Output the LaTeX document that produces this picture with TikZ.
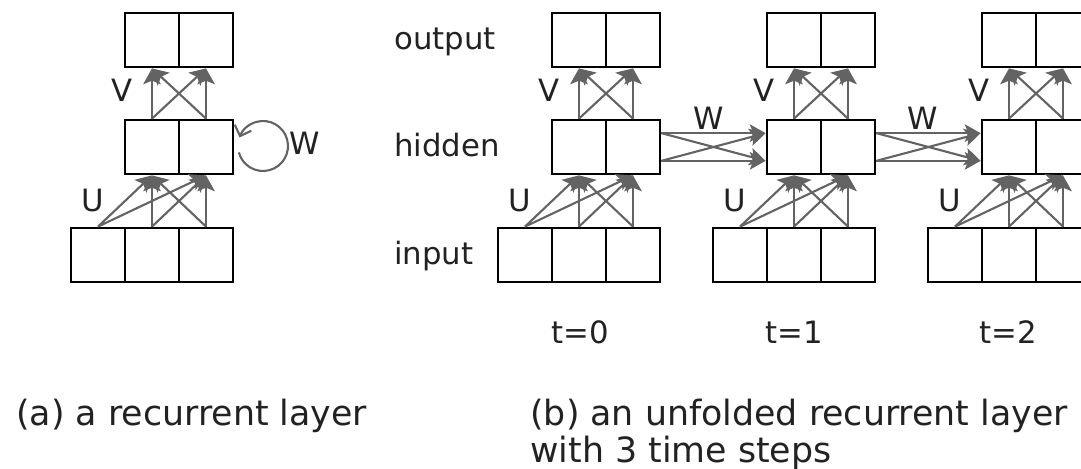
\documentclass[tikz,border=0pt]{standalone}
\usepackage{fontspec}
\setmainfont{DejaVu Sans}
\usepackage{xcolor}
\usepackage{tikz}
\usetikzlibrary{arrows.meta}
\usetikzlibrary{positioning}

\definecolor{wgray}{HTML}{636363}
\definecolor{txt}{HTML}{222222}

\begin{document}
\begin{tikzpicture}[x=0.02cm,y=-0.02cm,
    lbl/.style={text=txt,inner sep=0pt,anchor=base,font=\fontsize{17.5}{21}\selectfont},
    captext/.style={text=txt,inner sep=0pt,anchor=base west,font=\fontsize{19.8}{24}\selectfont},
    wgt/.style={draw=wgray,line width=1.2pt,-{Stealth[length=9pt,width=10pt,inset=2pt]}}]
    \useasboundingbox (0,0) rectangle (1081,469);
    % (a) and the three time steps of (b)
    \foreach \c/\dx in {a/0,0/427,1/642,2/857} {
      \begin{scope}[every node/.style={rectangle,draw,line width=1.6pt,minimum size=1.08cm,inner sep=0pt}]
        \node (o\c1) at (152+\dx,40) {};
        \node (o\c2) at (206+\dx,40) {};
        \node (h\c1) at (152+\dx,147) {};
        \node (h\c2) at (206+\dx,147) {};
        \node (i\c1) at (98+\dx,255) {};
        \node (i\c2) at (152+\dx,255) {};
        \node (i\c3) at (206+\dx,255) {};
      \end{scope}
      \begin{scope}[every edge/.style=wgt]
        \foreach \s in {1,2} \foreach \d in {1,2}
          \path (h\c\s.north) edge (o\c\d.south);
        \foreach \s in {1,2,3} \foreach \d in {1,2}
          \path (i\c\s.north) edge (h\c\d.south);
      \end{scope}
      \node[lbl] (v\c) at (122+\dx,102) {V};
      \node[lbl] (u\c) at (93+\dx,212) {U};
    }
    % recurrent weights
    \coordinate (rec) at (263,146);
    \draw[draw=wgray,line width=1.2pt,-{Straight Barb[length=5pt,width=10pt]}]
      ([shift={(195:0.5cm)}]rec) arc[start angle=195,end angle=520,radius=0.5cm];
    \node[lbl] (wa) at (305,155) {W};
    \begin{scope}[every edge/.style=wgt]
      \foreach \p/\n/\wx in {0/1/709,1/2/923} {
        \path (h\p2.26) edge (h\n1.154);
        \path (h\p2.26) edge (h\n1.206);
        \path (h\p2.-26) edge (h\n1.154);
        \path (h\p2.-26) edge (h\n1.206);
        \node[lbl] (w\p) at (\wx,130) {W};
      }
    \end{scope}
    \node[lbl,anchor=base west] (lout) at (394,50) {output};
    \node[lbl,anchor=base west] (lhid) at (394,157) {hidden};
    \node[lbl,anchor=base west] (linp) at (394,265) {input};
    \node[lbl] (t0) at (580,343) {t=0};
    \node[lbl] (t1) at (794,343) {t=1};
    \node[lbl] (t2) at (1008,343) {t=2};
    \node[captext] (capa) at (16,425) {(a) a recurrent layer};
    \node[captext] (capb) at (530,425) {(b) an unfolded recurrent layer};
    \node[captext] (capb2) at (530,462) {with 3 time steps};
\end{tikzpicture}
\end{document}
